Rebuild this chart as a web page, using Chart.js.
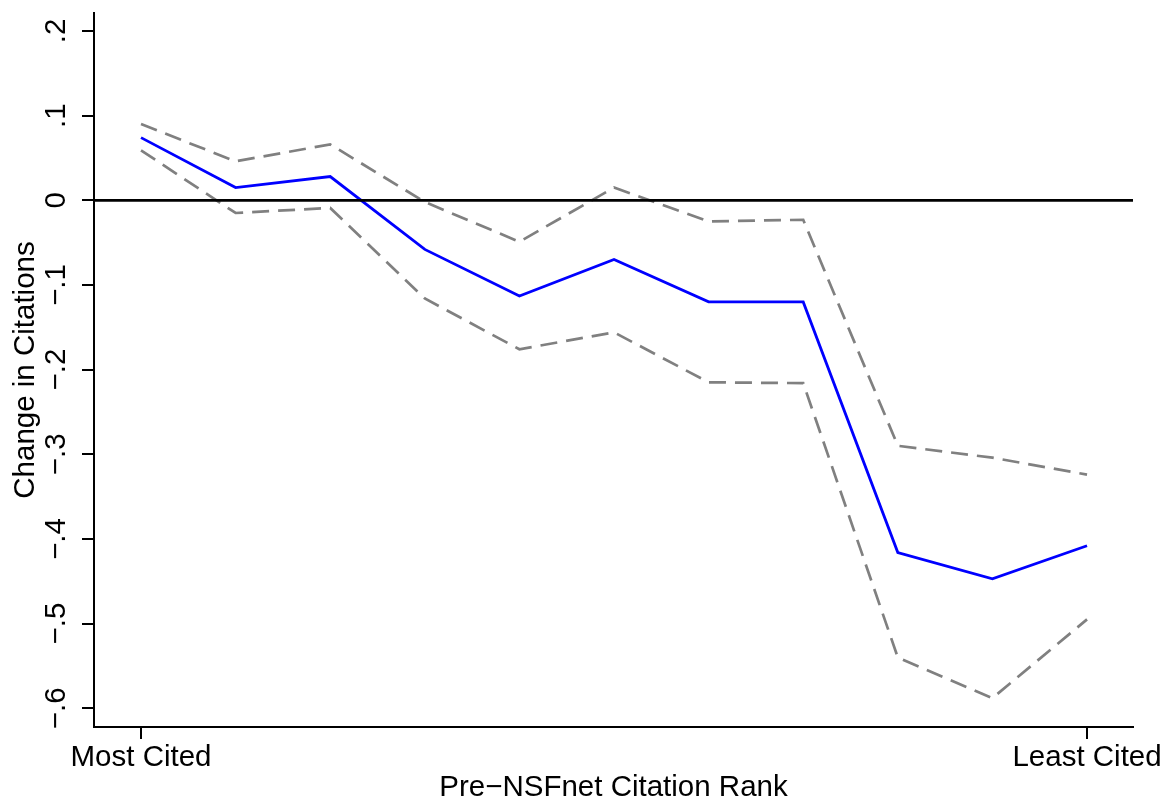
<!DOCTYPE html>
<html>
<head>
<meta charset="utf-8">
<script src="https://cdn.jsdelivr.net/npm/chart.js@4/dist/chart.umd.min.js"></script>
<style>
  html, body { margin: 0; padding: 0; background: #ffffff; }
  #wrap { width: 1164px; height: 803px; }
</style>
</head>
<body>
<div id="wrap"><canvas id="chart" width="1164" height="803"></canvas></div>
<script>
// Citation-rank groups, from most cited (0) to least cited (10)
const rankIndex = [0, 1, 2, 3, 4, 5, 6, 7, 8, 9, 10];
// Point estimates of the change in citations
const estimate = [0.074, 0.015, 0.028, -0.058, -0.113, -0.070, -0.120, -0.120, -0.416, -0.447, -0.408];
// Upper and lower confidence bounds
const upperBound = [0.090, 0.046, 0.066, -0.002, -0.049, 0.015, -0.025, -0.023, -0.290, -0.304, -0.324];
const lowerBound = [0.059, -0.015, -0.009, -0.116, -0.176, -0.156, -0.215, -0.216, -0.540, -0.588, -0.495];
// Axis ticks
const xTickValues = [0, 10];
const xTickLabels = ['Most Cited', 'Least Cited'];
const yTickValues = [0.2, 0.1, 0, -0.1, -0.2, -0.3, -0.4, -0.5, -0.6];
// Horizontal reference level
const referenceLevel = 0;

const X_MIN = -0.497, X_MAX = 10.486;
const Y_MIN = -0.6221, Y_MAX = 0.2212;
const FONT = { family: '"Liberation Sans", Arial, Helvetica, sans-serif', size: 29.5 };

function toPoints(values) {
  return rankIndex.map((x, i) => ({ x: x, y: values[i] }));
}

function formatY(v) {
  const r = Math.round(v * 10);
  if (r === 0) return '0';
  return (r < 0 ? '\u2212' : '') + '.' + Math.abs(r);
}

new Chart(document.getElementById('chart'), {
  type: 'line',
  data: {
    datasets: [
      {
        label: 'reference',
        data: [{ x: X_MIN, y: referenceLevel }, { x: X_MAX, y: referenceLevel }],
        borderColor: '#000000',
        borderWidth: 2.8,
        pointRadius: 0
      },
      {
        label: 'upper',
        data: toPoints(upperBound),
        borderColor: '#808080',
        borderWidth: 2.7,
        borderDash: [17, 9],
        pointRadius: 0
      },
      {
        label: 'lower',
        data: toPoints(lowerBound),
        borderColor: '#808080',
        borderWidth: 2.7,
        borderDash: [17, 9],
        pointRadius: 0
      },
      {
        label: 'estimate',
        data: toPoints(estimate),
        borderColor: '#0000ff',
        borderWidth: 2.8,
        pointRadius: 0
      }
    ]
  },
  options: {
    responsive: false,
    animation: false,
    devicePixelRatio: 1,
    elements: { line: { tension: 0 } },
    layout: { padding: { top: 13, right: 31, bottom: 0, left: 0 } },
    plugins: { legend: { display: false }, tooltip: { enabled: false } },
    scales: {
      x: {
        type: 'linear',
        min: X_MIN,
        max: X_MAX,
        afterBuildTicks: s => { s.ticks = xTickValues.map(v => ({ value: v })); },
        afterFit: s => { s.height = 76; s.paddingLeft = 0; s.paddingRight = 0; },
        ticks: {
          autoSkip: false,
          maxRotation: 0,
          minRotation: 0,
          padding: 1,
          color: '#000000',
          font: FONT,
          callback: v => xTickLabels[xTickValues.indexOf(v)]
        },
        grid: { display: true, drawOnChartArea: false, drawTicks: true, tickLength: 12, color: '#000000', lineWidth: 2 },
        border: { display: true, color: '#000000', width: 2 },
        title: {
          display: true,
          text: 'Pre\u2212NSFnet Citation Rank',
          color: '#000000',
          font: FONT,
          padding: { top: 0, bottom: -3 }
        }
      },
      y: {
        type: 'linear',
        min: Y_MIN,
        max: Y_MAX,
        afterBuildTicks: s => { s.ticks = yTickValues.map(v => ({ value: v })); },
        afterFit: s => { s.width = 94; s.paddingTop = 0; s.paddingBottom = 0; },
        ticks: {
          autoSkip: false,
          minRotation: 90,
          maxRotation: 90,
          crossAlign: 'center',
          padding: 4,
          color: '#000000',
          font: FONT,
          callback: v => formatY(v)
        },
        grid: { display: true, drawOnChartArea: false, drawTicks: true, tickLength: 12, color: '#000000', lineWidth: 2 },
        border: { display: true, color: '#000000', width: 2 },
        title: {
          display: true,
          text: 'Change in Citations',
          color: '#000000',
          font: FONT,
          padding: { top: 8.6, bottom: 0 }
        }
      }
    }
  }
});
</script>
</body>
</html>
